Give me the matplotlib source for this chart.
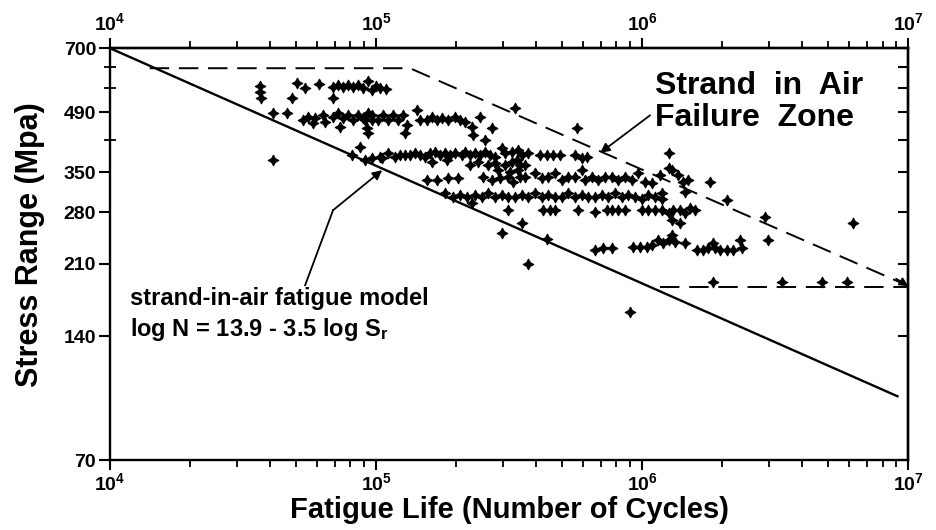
import matplotlib
matplotlib.use('Agg')
import matplotlib.pyplot as plt
from matplotlib.ticker import FixedLocator, LogLocator, NullFormatter
import numpy as np

plt.rcParams['font.family'] = ['Liberation Sans', 'DejaVu Sans']
plt.rcParams['mathtext.fontset'] = 'custom'
plt.rcParams['mathtext.rm'] = 'Liberation Sans:bold'
plt.rcParams['mathtext.bf'] = 'Liberation Sans:bold'
plt.rcParams['mathtext.it'] = 'Liberation Sans:bold:italic'

# --- test data, fatigue life in 1000 cycles / stress range in MPa ---
# band around 560 MPa
band560_kcyc = [36.6, 36.6, 36.9, 48.3, 50.5, 54.1, 61.1, 68.9, 68.9, 72.0, 75.2, 78.5,
                82.0, 85.6, 89.4, 93.3, 96.6, 99.9, 103.5, 109.0]
band560_mpa = [566, 547, 529, 529, 576, 560, 573, 563, 529, 569, 563, 569,
               563, 569, 560, 582, 553, 566, 560, 557]

# band around 470 MPa
band470_kcyc = [41.0, 46.3, 53.2, 55.5, 58.0, 59.0, 63.2, 64.3, 68.9, 72.0, 73.2,
                75.2, 78.5, 82.0, 85.6, 89.4, 90.9, 92.5, 93.3, 93.3, 96.6,
                96.6, 101.7, 106.3, 111.0, 115.9, 121.0, 126.3, 128.5, 130.7, 142.6,
                146.3, 155.5, 162.4, 169.6, 177.0, 186.5, 198.2, 206.9, 216.1, 229.5,
                231.5, 246.0, 273.0]
band470_mpa = [487, 487, 468, 476, 460, 473, 481, 463, 476, 487, 450,
               473, 481, 468, 481, 473, 468, 448, 487, 435, 468,
               481, 468, 481, 468, 481, 468, 481, 435, 455, 495,
               468, 468, 476, 468, 473, 468, 476, 468, 463, 450,
               430, 476, 448]

# band around 385 MPa
band385_kcyc = [81.3, 87.1, 90.9, 96.6, 103.5, 105.4, 111.0, 117.9, 123.1, 128.5,
                134.2, 140.1, 146.3, 152.8, 159.6, 166.7, 174.0, 181.7, 189.8, 198.2,
                210.5, 216.1, 225.6, 235.6, 246.0, 256.9, 268.3, 280.2, 297.8, 305.5,
                324.6, 341.8, 354.0, 372.8, 413.6, 439.5, 462.8, 491.8, 560.0, 595.0,
                621.3, 162.4, 184.9, 225.6, 241.8, 263.6, 280.2, 305.5, 324.6, 347.8,
                287.6, 319.0, 338.9, 363.2, 256.9]
band385_mpa = [385, 403, 374, 378, 380, 378, 389, 380, 385, 385,
               385, 389, 385, 380, 389, 391, 385, 389, 385, 389,
               385, 391, 385, 389, 385, 391, 385, 380, 401, 389,
               391, 396, 385, 389, 385, 385, 385, 385, 385, 378,
               380, 370, 374, 364, 370, 364, 368, 364, 370, 364,
               354, 350, 374, 364, 419]

# band around 340 MPa
band340_kcyc = [155.5, 169.6, 186.5, 203.4, 251.7, 273.0, 292.6, 313.6, 327.3, 341.8,
                347.8, 363.2, 396.1, 420.9, 443.3, 470.9, 500.6, 526.9, 560.0, 595.0,
                610.6, 648.8, 683.3, 726.0, 771.4, 812.4, 863.3, 917.3, 966.1, 1026,
                1091, 1169, 1257, 1297, 1366, 1427, 1489, 1802, 1257, 569.7, 333.1]
band340_mpa = [335, 335, 338, 338, 340, 335, 338, 340, 331, 354,
               340, 340, 348, 338, 340, 348, 335, 340, 340, 354,
               335, 340, 335, 340, 340, 335, 340, 335, 348, 331,
               329, 344, 358, 354, 344, 331, 335, 331, 389, 448, 501]

# band around 305 MPa
band305_kcyc = [181.7, 194.8, 206.9, 219.9, 235.6, 250.4, 263.6, 280.2, 297.8, 313.6,
                333.1, 354.0, 372.8, 396.1, 420.9, 443.3, 470.9, 500.6, 526.9, 560.0,
                595.0, 626.7, 665.8, 707.5, 745.1, 791.7, 841.2, 886.0, 941.3, 1000,
                1053, 1119, 1189]
band305_mpa = [311, 304, 308, 304, 308, 304, 311, 304, 308, 304,
               304, 308, 304, 311, 304, 308, 304, 304, 311, 304,
               308, 304, 304, 308, 304, 311, 304, 308, 304, 302,
               308, 304, 311]

# band around 283 MPa and scattered points
band283_kcyc = [313.6, 424.5, 451.0, 470.9, 574.6, 665.8, 738.8, 771.4, 812.4, 863.3,
                1000, 1053, 1119, 1189, 1264, 1308, 1390, 1451, 1515, 1582,
                1297, 1390, 1189, 1451, 2088, 2900, 229.5, 354.0, 297.8, 439.5,
                372.8, 901.5, 41.0, 6213, 2960]
band283_mpa = [283, 283, 283, 283, 283, 280, 283, 283, 283, 283,
               283, 283, 283, 283, 278, 283, 283, 278, 286, 283,
               268, 263, 302, 313, 299, 272, 294, 263, 249, 241,
               210, 160, 374, 263, 239]

# band around 230 MPa
band230_kcyc = [665.8, 713.6, 771.4, 925.3, 983.0, 1045, 1091, 1148, 1199, 1264,
                1297, 1331, 1451, 1610, 1696, 1770, 1850, 1882, 1965, 2088,
                2199, 2336, 2377]
band230_mpa = [226, 229, 229, 231, 231, 231, 233, 239, 235, 239,
               246, 237, 235, 226, 226, 229, 235, 229, 226, 226,
               226, 239, 229]

# runouts near 189 MPa
band189_kcyc = [1850, 3360, 4750, 5899]
band189_mpa = [189, 189, 189, 189]

# strand-in-air model line and failure zone boundary
model_cycles = [1e4, 9.1e6]
model_mpa = [700, 100]
zone_cycles = [1.41e4, 1.34e5, 9.5e6]
zone_mpa = [626, 626, 188]
limit_cycles = [1.17e6, 1e7]
limit_mpa = [184, 184]

x_ticks = [1e4, 1e5, 1e6, 1e7]
x_tick_labels = [r'$\mathbf{10^{4}}$', r'$\mathbf{10^{5}}$', r'$\mathbf{10^{6}}$', r'$\mathbf{10^{7}}$']
y_ticks = [70, 140, 210, 280, 350, 490, 700]
y_minor = [420, 560, 630]

fig = plt.figure(figsize=(9.37, 5.30), dpi=100)
ax = fig.add_axes([0.1174, 0.132, 0.852, 0.777])
ax.set_xscale('log')
ax.set_yscale('log')
ax.set_xlim(1e4, 1e7)
ax.set_ylim(70, 700)

groups = [(band560_kcyc, band560_mpa), (band470_kcyc, band470_mpa),
          (band385_kcyc, band385_mpa), (band340_kcyc, band340_mpa),
          (band305_kcyc, band305_mpa), (band283_kcyc, band283_mpa),
          (band230_kcyc, band230_mpa), (band189_kcyc, band189_mpa)]
for kc, mpa in groups:
    ax.scatter(np.array(kc) * 1000, mpa, marker=(4, 1, 0), s=58, c='k',
               linewidths=0.8, zorder=3)

ax.plot(model_cycles, model_mpa, color='k', lw=1.7)
ax.plot(zone_cycles, zone_mpa, color='k', lw=1.4, dashes=(10, 5))
ax.plot(limit_cycles, limit_mpa, color='k', lw=1.4, dashes=(10, 5))
ax.annotate('', xy=(1e7, 185), xytext=(9.0e6, 193),
            arrowprops=dict(arrowstyle='-|>', color='k', lw=1.2, mutation_scale=13,
                            shrinkA=0, shrinkB=0))

# annotations
ax.text(0.683, 0.945, 'Strand  in  Air\nFailure  Zone', transform=ax.transAxes,
        fontsize=23, fontweight='bold', va='top', ha='left', linespacing=1.08)
ax.annotate('', xy=(6.95e5, 390), xytext=(1.07e6, 481),
            arrowprops=dict(arrowstyle='-|>', color='k', lw=1.3, mutation_scale=14,
                            shrinkA=0, shrinkB=0))

ax.text(0.025, 0.376, 'strand-in-air fatigue model', transform=ax.transAxes,
        fontsize=17, fontweight='bold', va='baseline', ha='left')
ax.text(0.025, 0.301, r'log N = 13.9 - 3.5 log S$_\mathbf{r}$', transform=ax.transAxes,
        fontsize=17, fontweight='bold', va='baseline', ha='left')
ax.plot([5.41e4, 6.89e4], [186, 283], color='k', lw=1.3)
ax.annotate('', xy=(1.054e5, 354), xytext=(6.89e4, 283),
            arrowprops=dict(arrowstyle='-|>', color='k', lw=1.3, mutation_scale=14,
                            shrinkA=0, shrinkB=0))

# axes and ticks
for s in ax.spines.values():
    s.set_linewidth(1.7)

ax.xaxis.set_major_locator(FixedLocator(x_ticks))
ax.xaxis.set_minor_locator(LogLocator(base=10, subs=range(2, 10)))
ax.xaxis.set_minor_formatter(NullFormatter())
ax.set_xticklabels(x_tick_labels)
ax.tick_params(axis='x', which='major', direction='out', length=7, width=1.5,
               labelsize=14, pad=2)
ax.tick_params(axis='x', which='minor', direction='out', length=5, width=1.3)

ax.yaxis.set_major_locator(FixedLocator(y_ticks))
ax.set_yticklabels([str(v) for v in y_ticks])
ax.yaxis.set_minor_locator(FixedLocator(y_minor))
ax.yaxis.set_minor_formatter(NullFormatter())
ax.tick_params(axis='y', which='major', direction='out', length=8, width=1.5,
               labelsize=14, pad=2)
ax.tick_params(axis='y', which='minor', direction='inout', length=8, width=1.3)
for lab in ax.get_yticklabels():
    lab.set_fontweight('bold')

top = ax.secondary_xaxis('top')
top.xaxis.set_major_locator(FixedLocator(x_ticks))
top.xaxis.set_minor_locator(LogLocator(base=10, subs=range(2, 10)))
top.xaxis.set_minor_formatter(NullFormatter())
top.set_xticklabels(x_tick_labels)
top.tick_params(axis='x', which='major', direction='out', length=7, width=1.5,
                labelsize=14, pad=3)
top.tick_params(axis='x', which='minor', direction='out', length=5, width=1.3)
top.spines['top'].set_linewidth(1.7)

right = ax.secondary_yaxis('right')
right.yaxis.set_major_locator(FixedLocator(y_ticks + y_minor))
right.yaxis.set_minor_locator(FixedLocator([]))
right.set_yticklabels([''] * len(y_ticks + y_minor))
right.tick_params(axis='y', which='major', direction='in', length=7, width=1.5)
right.spines['right'].set_linewidth(1.7)

fig.text(0.544, 0.038, 'Fatigue Life (Number of Cycles)', fontsize=21,
         fontweight='bold', ha='center', va='center')
fig.text(0.032, 0.538, 'Stress Range (Mpa)', fontsize=22, fontweight='bold',
         ha='center', va='center', rotation=90)

fig.savefig('out.png', dpi=100)
